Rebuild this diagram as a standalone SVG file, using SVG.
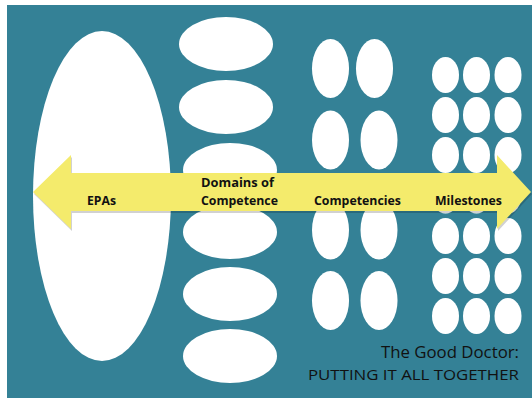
<svg xmlns="http://www.w3.org/2000/svg" width="532" height="398" viewBox="0 0 532 398">
<style>
.e{fill:#ffffff}
.lbl{font-family:"Open Sans","Liberation Sans",Arial,sans-serif;font-weight:bold;font-size:12.5px;fill:#111111}
.ttl{font-family:"Open Sans","Liberation Sans",Arial,sans-serif;fill:#111111}
</style>
<rect width="532" height="398" fill="#ffffff"/>
<rect x="7" y="5" width="525" height="393" fill="#348196"/>
<g id="epas-shape"><ellipse class="e" cx="102" cy="196" rx="69" ry="165"/></g>
<g id="domains">
<ellipse class="e" cx="226" cy="44" rx="47" ry="27"/>
<ellipse class="e" cx="226" cy="107" rx="47" ry="27"/>
<ellipse class="e" cx="230" cy="170" rx="47" ry="27"/>
<ellipse class="e" cx="230" cy="232" rx="47" ry="27"/>
<ellipse class="e" cx="230" cy="294" rx="47" ry="27"/>
<ellipse class="e" cx="230" cy="356" rx="47" ry="27"/>
</g>
<g id="competencies">
<ellipse class="e" cx="330.5" cy="68.5" rx="18.5" ry="29.5"/>
<ellipse class="e" cx="374.5" cy="68.5" rx="18.5" ry="29.5"/>
<ellipse class="e" cx="330.5" cy="140" rx="18.5" ry="29.5"/>
<ellipse class="e" cx="379" cy="140" rx="18.5" ry="29.5"/>
<ellipse class="e" cx="330.5" cy="230" rx="18.5" ry="29.5"/>
<ellipse class="e" cx="379" cy="230" rx="18.5" ry="29.5"/>
<ellipse class="e" cx="330.5" cy="300.5" rx="18.5" ry="29.5"/>
<ellipse class="e" cx="379" cy="300.5" rx="18.5" ry="29.5"/>
</g>
<g id="milestones">
<g class="e">
<ellipse cx="445.5" cy="75" rx="13.5" ry="18"/><ellipse cx="476.5" cy="75" rx="13.5" ry="18"/><ellipse cx="508" cy="75" rx="13.5" ry="18"/>
<ellipse cx="445.5" cy="115" rx="13.5" ry="18"/><ellipse cx="476.5" cy="115" rx="13.5" ry="18"/><ellipse cx="508" cy="115" rx="13.5" ry="18"/>
<ellipse cx="445.5" cy="155" rx="13.5" ry="18"/><ellipse cx="476.5" cy="155" rx="13.5" ry="18"/><ellipse cx="508" cy="155" rx="13.5" ry="18"/>
<ellipse cx="445.5" cy="195.5" rx="13.5" ry="18"/><ellipse cx="476.5" cy="195.5" rx="13.5" ry="18"/><ellipse cx="508" cy="195.5" rx="13.5" ry="18"/>
<ellipse cx="445.5" cy="236" rx="13.5" ry="18"/><ellipse cx="476.5" cy="236" rx="13.5" ry="18"/><ellipse cx="508" cy="236" rx="13.5" ry="18"/>
<ellipse cx="445.5" cy="276" rx="13.5" ry="18"/><ellipse cx="476.5" cy="276" rx="13.5" ry="18"/><ellipse cx="508" cy="276" rx="13.5" ry="18"/>
<ellipse cx="445.5" cy="316" rx="13.5" ry="18"/><ellipse cx="476.5" cy="316" rx="13.5" ry="18"/><ellipse cx="508" cy="316" rx="13.5" ry="18"/>
</g>
</g>
<g id="connectors">
<polygon points="34,194 72,157 72,175 498,175 498,157 532,194 498,231 498,213 72,213 72,231" fill="#000000" opacity="0.18"/>
<polygon points="33,192 71,155 71,173 497,173 497,155 531,192 497,229 497,211 71,211 71,229" fill="#f4eb6c"/>
</g>
<g id="labels">
<text class="lbl" x="87" y="205" textLength="29" lengthAdjust="spacingAndGlyphs">EPAs</text>
<text class="lbl" x="201" y="187" textLength="73" lengthAdjust="spacingAndGlyphs">Domains of</text>
<text class="lbl" x="201" y="205" textLength="77" lengthAdjust="spacingAndGlyphs">Competence</text>
<text class="lbl" x="314" y="205" textLength="87" lengthAdjust="spacingAndGlyphs">Competencies</text>
<text class="lbl" x="435" y="205" textLength="67" lengthAdjust="spacingAndGlyphs">Milestones</text>
</g>
<g id="title">
<text class="ttl" x="519" y="358" text-anchor="end" font-size="16" textLength="138" lengthAdjust="spacingAndGlyphs">The Good Doctor:</text>
<text class="ttl" x="519" y="380" text-anchor="end" font-size="15" textLength="211" lengthAdjust="spacingAndGlyphs">PUTTING IT ALL TOGETHER</text>
</g>
</svg>
